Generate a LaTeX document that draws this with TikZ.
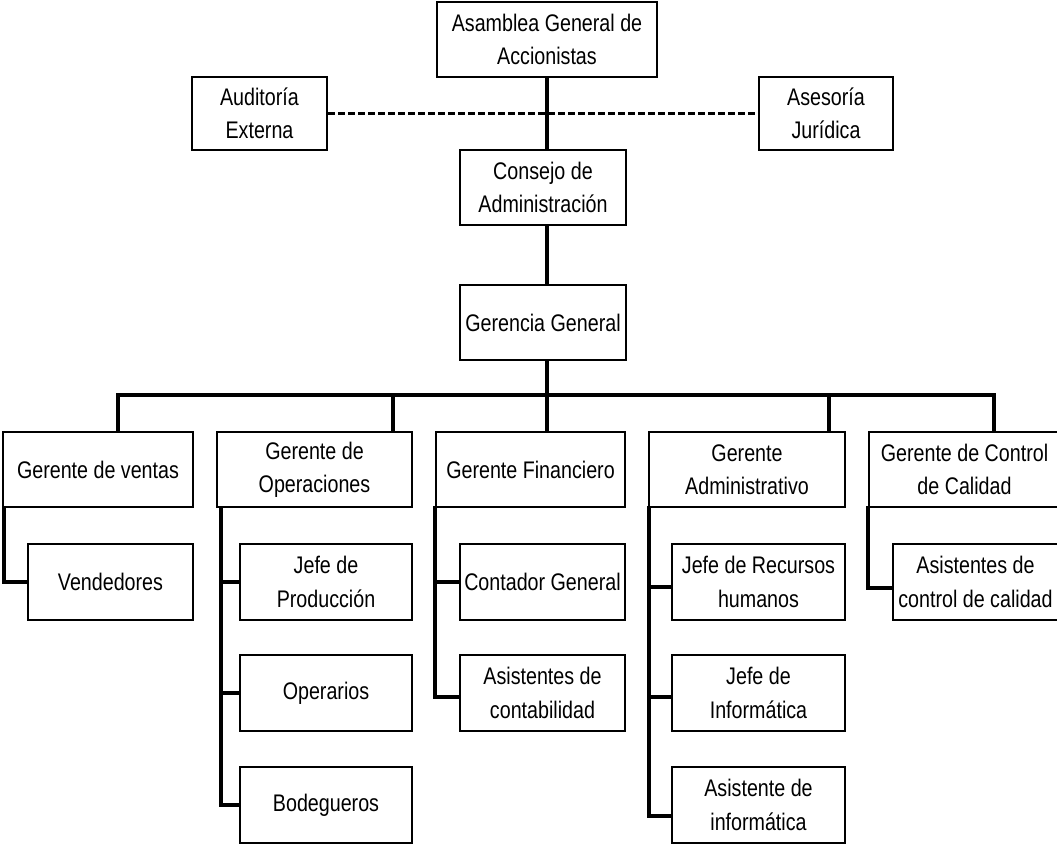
\documentclass[tikz,border=0pt]{standalone}
\usepackage{fontspec}
\setmainfont[FakeStretch=0.82]{Liberation Sans}
\usetikzlibrary{calc}
\begin{document}
\begin{tikzpicture}[x=0.75pt,y=-0.75pt,
  box/.style={draw, line width=1.4pt, inner sep=0pt, align=center,
    font=\fontsize{18}{25}\selectfont},
  wh/.style 2 args={minimum width=#1*0.75pt, minimum height=#2*0.75pt},
  conn/.style={line width=2.5pt, line cap=rect},
  dashconn/.style={line width=2.3pt, dash pattern=on 5.25pt off 2.25pt}]
\useasboundingbox (0,0) rectangle (1057,846);

% top levels
\node[box, wh={220}{75}] (asam) at (547,39.5) {Asamblea General de\\Accionistas};
\node[box, wh={135}{73}] (aud) at (259.5,113.5) {Auditoría\\Externa};
\node[box, wh={134}{73}] (ase) at (826,113.5) {Asesoría\\Jurídica};
\node[box, wh={166}{75}] (cons) at (543,187.5) {Consejo de\\Administración};
\node[box, wh={166}{75}] (gg) at (543,322.5) {Gerencia General};

% managers
\node[box, wh={190}{75}] (gv) at (98,469.5) {Gerente de ventas};
\node[box, wh={195}{75}] (gop) at (314.5,469.5) {Gerente de\\Operaciones};
\node[box, wh={189}{75}] (gf) at (530.5,469.5) {Gerente Financiero};
\node[box, wh={196}{75}] (ga) at (747,469.5) {Gerente\\Administrativo};
\node[box, wh={191}{75}] (gc) at (964.5,469.5) {Gerente de Control\\de Calidad};

% subordinates
\node[box, wh={165}{76}] (vend) at (110.5,582) {Vendedores};
\node[box, wh={172}{76}] (jp) at (326,582) {Jefe de\\Producción};
\node[box, wh={172}{76}] (op) at (326,693) {Operarios};
\node[box, wh={172}{76}] (bo) at (326,805) {Bodegueros};
\node[box, wh={165}{76}] (cg) at (542.5,582) {Contador General};
\node[box, wh={165}{76}] (acont) at (542.5,693) {Asistentes de\\contabilidad};
\node[box, wh={173}{76}] (rh) at (758.5,582) {Jefe de Recursos\\humanos};
\node[box, wh={173}{76}] (ji) at (758.5,693) {Jefe de\\Informática};
\node[box, wh={173}{76}] (ai) at (758.5,805) {Asistente de\\informática};
\node[box, wh={165}{76}] (acc) at (975.5,582) {Asistentes de\\control de calidad};

% staff line
\draw[dashconn] (aud.east) -- (ase.west);

% spine
\coordinate (sp) at (547,0);
\coordinate (busL) at (118,395);
\coordinate (d2) at (393,395);
\coordinate (d4) at (829,395);
\coordinate (d5) at (994,395);
\draw[conn] (asam.south) -- (asam.south |- cons.north);
\draw[conn] (cons.south -| sp) -- (gg.north -| sp);
\draw[conn] (gg.south -| sp) -- (sp |- busL);
\draw[conn] (busL) -- (d5);
\draw[conn] (busL) -- (busL |- gv.north);
\draw[conn] (d2) -- (d2 |- gop.north);
\draw[conn] (sp |- busL) -- (sp |- gf.north);
\draw[conn] (d4) -- (d4 |- ga.north);
\draw[conn] (d5) -- (d5 |- gc.north);

% branches
\draw[conn] ($(gv.south west)+(2,0)$) |- (vend.west);
\draw[conn] ($(gop.south west)+(5,0)$) |- (jp.west);
\draw[conn] ($(gop.south west)+(5,0)$) |- (op.west);
\draw[conn] ($(gop.south west)+(5,0)$) |- (bo.west);
\draw[conn] (gf.south west) |- (cg.west);
\draw[conn] (gf.south west) |- ($(acont.west)+(0,4)$);
\draw[conn] ($(ga.south west)+(1,0)$) |- ($(rh.west)+(0,5)$);
\draw[conn] ($(ga.south west)+(1,0)$) |- ($(ji.west)+(0,4)$);
\draw[conn] ($(ga.south west)+(1,0)$) |- ($(ai.west)+(0,11)$);
\draw[conn] (gc.south west) |- ($(acc.west)+(0,6)$);
\end{tikzpicture}
\end{document}
